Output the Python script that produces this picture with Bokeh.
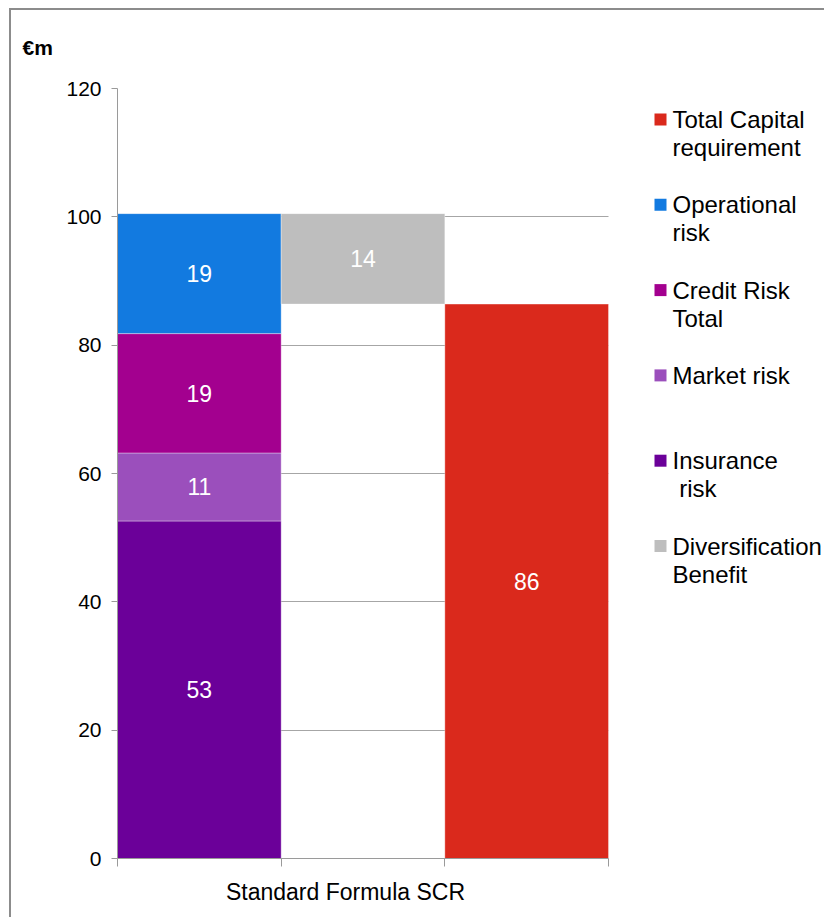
from bokeh.plotting import figure
from bokeh.models import (ColumnDataSource, Range1d, FixedTicker, Label, BoxAnnotation)
from bokeh.core.properties import value
from bokeh.embed import file_html
from bokeh.resources import INLINE

# ---------------- data ----------------
category = "Standard Formula SCR"
risk_names = ["Insurance risk", "Market risk", "Credit Risk Total", "Operational risk"]
risk_values = [52.6, 10.6, 18.6, 18.7]
risk_colors = ["#6B0099", "#9B4FBC", "#A3008F", "#127AE0"]
diversification = 14.1
diversification_color = "#BEBEBE"
total_capital = 86.4
total_color = "#DA291C"
y_ticks = [0, 20, 40, 60, 80, 100, 120]
legend_labels = ["Total Capital\nrequirement", "Operational\nrisk", "Credit Risk\nTotal",
                 "Market risk", "Insurance\n\u00a0risk", "Diversification\nBenefit"]
legend_colors = [total_color, "#127AE0", "#A3008F", "#9B4FBC", "#6B0099", diversification_color]

FONT = "Liberation Sans"

# ---------------- geometry (canvas px) ----------------
W, H = 824, 917
FL, FR, FT, FB = 117, 608, 88, 858   # plotting-area edges
slot_px = (FR - FL) / 3.0
x_end = 2.5 + (W - FR) / slot_px      # frame extends under the legend


def sx(px):
    return px - FL


def sy(py):
    return FB - py


# ---------------- bars ----------------
bottoms, tops = [], []
acc = 0.0
for v in risk_values:
    bottoms.append(acc)
    acc += v
    tops.append(acc)
gross = acc

seg_x = [0] * len(risk_values) + [1, 2]
seg_bottom = bottoms + [gross - diversification, 0]
seg_top = tops + [gross, total_capital]
seg_color = risk_colors + [diversification_color, total_color]
seg_val = risk_values + [diversification, total_capital]
seg_mid = [(b + t) / 2 for b, t in zip(seg_bottom, seg_top)]
seg_lbl = [f"{v:.0f}" for v in seg_val]

src = ColumnDataSource(dict(x=seg_x, bottom=seg_bottom, top=seg_top, color=seg_color,
                            mid=seg_mid, lbl=seg_lbl))

p = figure(width=W, height=H, x_range=Range1d(-0.5, x_end), y_range=Range1d(0, 120),
           output_backend="svg", toolbar_location=None,
           min_border_left=FL, min_border_right=0, min_border_top=FT,
           min_border_bottom=H - FB)
p.outline_line_color = None
p.background_fill_color = "white"
p.border_fill_color = None
p.styles = {
    "background-color": "white",
    "background-image": "linear-gradient(#8c8c8c, #8c8c8c), linear-gradient(#8c8c8c, #8c8c8c)",
    "background-size": "100% 2px, 2px 100%",
    "background-position": "10px 8px, 9px 8px",
    "background-repeat": "no-repeat",
}

p.vbar(x="x", width=1.0, bottom="bottom", top="top", fill_color="color",
       line_color="white", line_alpha=0.35, line_width=1, source=src)
p.text(x="x", y="mid", text="lbl", source=src, text_align="center",
       text_baseline="middle", text_color="white", text_font=value(FONT),
       text_font_size="23px")

# ---------------- title (unit) ----------------
p.title.text = "€m"
p.title.align = "left"
p.title.offset = 22 - FL
p.title.text_font = FONT
p.title.text_font_size = "21px"
p.title.text_font_style = "bold"
p.title.text_color = "black"
p.title.standoff = 60

# ---------------- axes ----------------
p.yaxis.ticker = FixedTicker(ticks=y_ticks)
p.yaxis.major_tick_out = 6
p.yaxis.major_tick_in = 0
p.yaxis.minor_tick_line_color = None
p.yaxis.axis_line_color = "#9a9a9a"
p.yaxis.major_tick_line_color = "#9a9a9a"
p.yaxis.major_label_text_font = FONT
p.yaxis.major_label_text_font_size = "21px"
p.yaxis.major_label_text_color = "black"
p.yaxis.major_label_standoff = 10

p.ygrid.ticker = FixedTicker(ticks=y_ticks)
p.ygrid.grid_line_color = "#a6a6a6"
p.ygrid.cross_bounds = (-0.5, 2.5)
p.xgrid.grid_line_color = None

cat_pos = 0.893
p.xaxis.ticker = FixedTicker(ticks=[cat_pos], minor_ticks=[-0.5, 0.5, 1.5, 2.5])
p.xaxis.bounds = (-0.5, 2.5)
p.xaxis.major_label_overrides = {cat_pos: category}
p.xaxis.major_tick_out = 0
p.xaxis.major_tick_in = 0
p.xaxis.minor_tick_out = 8
p.xaxis.minor_tick_in = 0
p.xaxis.minor_tick_line_color = "#9a9a9a"
p.xaxis.axis_line_color = "#9a9a9a"
p.xaxis.major_label_text_font = FONT
p.xaxis.major_label_text_font_size = "23px"
p.xaxis.major_label_text_color = "black"
p.xaxis.major_label_standoff = 12

# ---------------- legend ----------------
first_base = 127
entry_step = 85.3
line_step = 28
text_shift = 8
for i, (lab, col) in enumerate(zip(legend_labels, legend_colors)):
    base = first_base + i * entry_step
    p.add_layout(BoxAnnotation(left=sx(654), right=sx(666), top=sy(base - 14), bottom=sy(base - 2),
                               left_units="screen", right_units="screen",
                               top_units="screen", bottom_units="screen",
                               fill_color=col, fill_alpha=1.0, line_color=None))
    for j, line in enumerate(lab.split("\n")):
        p.add_layout(Label(x=sx(672), y=sy(base + j * line_step - text_shift), x_units="screen",
                           y_units="screen", text=line, text_font=FONT,
                           text_font_size="24px", text_baseline="alphabetic",
                           text_color="black"))

open("out.html", "w").write(file_html(p, INLINE))
